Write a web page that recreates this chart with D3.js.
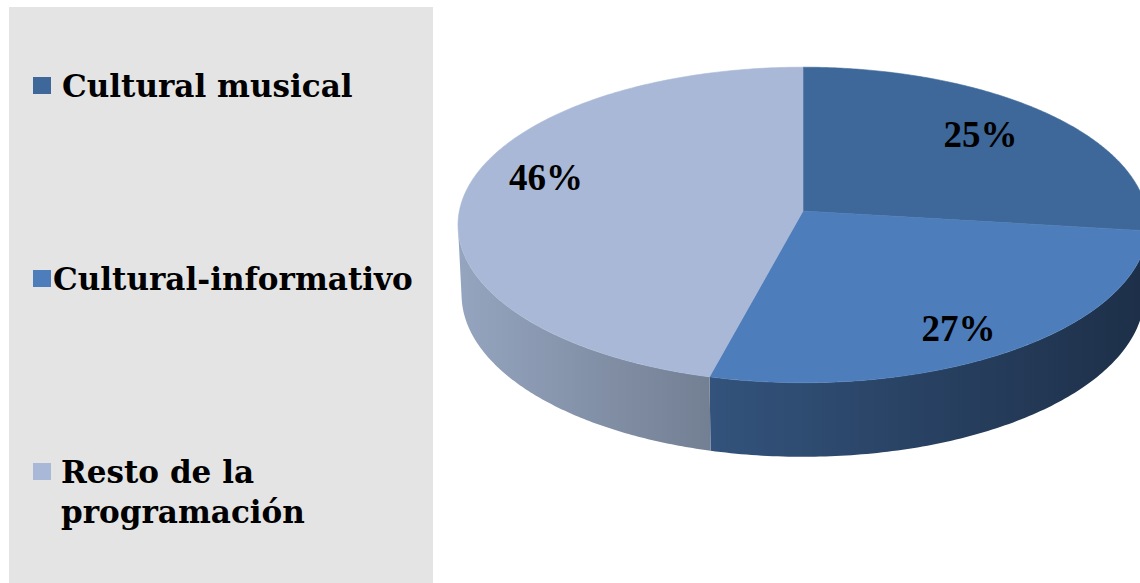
<!DOCTYPE html>
<html><head><meta charset="utf-8">
<script src="https://cdn.jsdelivr.net/npm/d3@7"></script>
<style>html,body{margin:0;padding:0;background:#fff;overflow:hidden}svg{display:block}</style>
</head><body>
<svg id="chart" width="1140" height="583"></svg>
<script>
// ---- data ----
const categories = ["Cultural musical", "Cultural-informativo", "Resto de la programación"];
const values = [25, 27, 46];
const valueLabels = ["25%", "27%", "46%"];
const legendLines = [["Cultural musical"], ["Cultural-informativo"], ["Resto de la", "programación"]];

// ---- styles ----
const topColors = ["#3e6899", "#4d7ebb", "#a9b8d6"];
const sideLight = ["#2f5075", "#33537c", "#95a5bf"];
const sideDark  = ["#1c2d44", "#1d2f48", "#737f93"];

const svg = d3.select("#chart");

// legend panel
svg.append("rect").attr("x", 9).attr("y", 7).attr("width", 424).attr("height", 583 - 7).attr("fill", "#e4e4e4");

// ---- 3D perspective pie ----
const cx = 803, cy = 211, S = 3457, D = 10.06, depth = 0.229, alpha = 27.1 * Math.PI / 180;
const ca = Math.cos(alpha), sa = Math.sin(alpha);
function proj(theta, rho, z) {
  const x = rho * Math.sin(theta), y = rho * Math.cos(theta);
  const d = D + y * ca - z * sa;
  const up = y * sa + z * ca;
  return [cx + S * x / d, cy - S * up / d];
}
const visStart = Math.acos(-1 / (D * ca));
const visEnd = 2 * Math.PI - visStart;

// percentages are shares of 100; slices are laid out ending at 12 o'clock,
// the first slice fills up to the top (the labelled shares total 98%).
const angle = d3.scaleLinear().domain([0, 100]).range([0, 2 * Math.PI]);
const total = d3.sum(values);
const pie = d3.pie().sort(null).value(d => d).startAngle(angle(100 - total)).endAngle(2 * Math.PI);
const arcs = pie(values);
arcs[0].startAngle = 0;
const line = d3.line();
const defs = svg.append("defs");

function arcPts(a0, a1, z, n) {
  const pts = [];
  for (let i = 0; i <= n; i++) pts.push(proj(a0 + (a1 - a0) * i / n, 1, z));
  return pts;
}

const gPie = svg.append("g");
// sides
arcs.forEach((a, i) => {
  const lo = Math.max(a.startAngle, visStart), hi = Math.min(a.endAngle, visEnd);
  if (lo >= hi) return;
  const topPts = arcPts(lo, hi, 0, 120);
  const botPts = arcPts(hi, lo, -depth, 120);
  const xs = topPts.concat(botPts).map(p => p[0]);
  const x0 = d3.min(xs), x1 = d3.max(xs);
  const gid = "side" + i;
  const gr = defs.append("linearGradient").attr("id", gid)
    .attr("gradientUnits", "userSpaceOnUse").attr("x1", x0).attr("x2", x1).attr("y1", 0).attr("y2", 0);
  gr.append("stop").attr("offset", 0).attr("stop-color", sideLight[i]);
  gr.append("stop").attr("offset", 1).attr("stop-color", sideDark[i]);
  gPie.append("path").attr("d", line(topPts.concat(botPts)) + "Z").attr("fill", `url(#${gid})`);
});
// top faces
arcs.forEach((a, i) => {
  const pts = [proj(0, 0, 0)].concat(arcPts(a.startAngle, a.endAngle, 0, 200));
  gPie.append("path").attr("d", line(pts) + "Z").attr("fill", topColors[i])
    .attr("stroke", topColors[i]).attr("stroke-width", 0.6);
});

// value labels
const labelRho = 0.76;
const labelNudge = [[-10, -1], [0, 13], [0, -19]];
arcs.forEach((a, i) => {
  const m = (a.startAngle + a.endAngle) / 2;
  const p = proj(m, labelRho, 0);
  svg.append("text").attr("x", p[0] + labelNudge[i][0]).attr("y", p[1] + labelNudge[i][1])
    .attr("dy", "0.34em").attr("text-anchor", "middle")
    .attr("font-family", "'Liberation Serif', 'Times New Roman', serif").attr("font-weight", "bold")
    .attr("font-size", 37).attr("fill", "#000").text(valueLabels[i]);
});

// ---- legend ----
const legendY = d3.scaleLinear().domain([0, 2]).range([85.5, 471.5]);
const swX = 33, swW = 18, swH = 17;
const textGap = [11, 2, 10];
const lg = svg.append("g");
const probe = lg.append("text").attr("font-family", "'DejaVu Serif', serif").attr("font-weight", "bold")
  .attr("font-size", 30).text(legendLines[1][0]);
const natural = probe.node().getComputedTextLength();
probe.remove();
const legendFont = 30 * 360 / natural;
categories.forEach((c, i) => {
  const yc = legendY(i);
  lg.append("rect").attr("x", swX).attr("y", yc - swH / 2).attr("width", swW).attr("height", swH).attr("fill", topColors[i]);
  const t = lg.append("text").attr("font-family", "'DejaVu Serif', serif").attr("font-weight", "bold")
    .attr("font-size", legendFont).attr("fill", "#000");
  legendLines[i].forEach((ln, j) => {
    t.append("tspan").attr("x", swX + swW + textGap[i]).attr("y", yc + 11.5 + j * 40).text(ln);
  });
});
</script>
</body></html>
